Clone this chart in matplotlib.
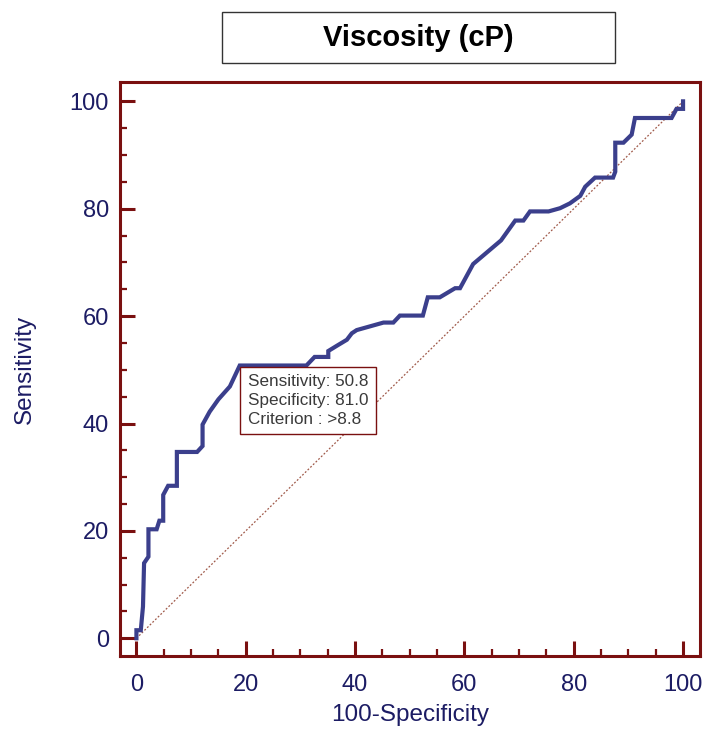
import numpy as np
import matplotlib
matplotlib.use("Agg")
import matplotlib.pyplot as plt
from matplotlib.ticker import MultipleLocator
from matplotlib.patches import Rectangle

# ROC curve points (100-Specificity, Sensitivity)
fpr = [0, 0, 0.8, 1.2, 1.4, 2.2, 2.2, 3.7, 4.2, 4.9, 4.9, 5.8, 7.4, 7.4, 11.1, 12.1, 12.1,
       13.4, 15.0, 17.1, 18.9, 31.1, 32.6, 35.1, 35.1, 36.7, 38.5, 39.4, 40.3, 45.2, 47.0,
       48.2, 52.4, 53.3, 55.5, 58.3, 59.2, 61.6, 66.7, 69.3, 70.8, 72.0, 75.4, 77.5, 79.3,
       81.2, 82.1, 83.9, 87.2, 87.6, 87.6, 89.1, 90.6, 91.2, 97.9, 98.8, 100.0, 100.0]
tpr = [0, 1.5, 1.5, 5.9, 14.0, 15.2, 20.3, 20.3, 21.9, 21.9, 26.7, 28.4, 28.4, 34.7, 34.7,
       35.8, 39.8, 42.2, 44.5, 46.9, 50.8, 50.8, 52.4, 52.4, 53.5, 54.5, 55.6, 56.8, 57.4,
       58.8, 58.8, 60.1, 60.1, 63.5, 63.5, 65.2, 65.2, 69.7, 74.1, 77.8, 77.8, 79.5, 79.5,
       80.1, 81.0, 82.4, 84.1, 85.8, 85.8, 86.9, 92.3, 92.3, 93.8, 96.9, 96.9, 98.6, 98.6, 100]

ref_line = [0, 100]
ticks = [0, 20, 40, 60, 80, 100]
criterion = (18.9, 50.6)
criterion_text = "Sensitivity: 50.8\nSpecificity: 81.0\nCriterion : >8.8"
title = "Viscosity (cP)"

frame_color = "#7a1010"
label_color = "#1c1c64"
curve_color = "#3b3f8c"

plt.rcParams['font.family'] = ['Liberation Sans', 'DejaVu Sans']

W, H = 706, 731
fig = plt.figure(figsize=(W / 100, H / 100), dpi=100)
ax = fig.add_axes([0.170, 0.1026, 0.8215, 0.7852])

ax.plot(ref_line, ref_line, color="#a05a4a", lw=0.9, linestyle=(0, (1.5, 1.5)))
ax.plot(fpr, tpr, color=curve_color, lw=3.0, solid_joinstyle="miter")

# criterion box, top-left corner at the optimal cut-off point
ax.annotate(criterion_text, xy=criterion, xytext=(5.6, -5.6), textcoords="offset points",
            ha="left", va="top", fontsize=12.3, color="#3a3a3a", linespacing=1.3,
            bbox=dict(boxstyle="square,pad=0.45", fc="white", ec=frame_color, lw=1.0))

ax.set_xlim(-3.0, 103.1)
ax.set_ylim(-3.3, 103.6)
ax.set_xticks(ticks)
ax.set_yticks(ticks)
ax.xaxis.set_minor_locator(MultipleLocator(5))
ax.yaxis.set_minor_locator(MultipleLocator(5))

for s in ax.spines.values():
    s.set_color(frame_color)
    s.set_linewidth(2.2)

ax.tick_params(which="major", direction="in", length=11, width=2.2, color=frame_color,
               labelsize=17, labelcolor=label_color)
ax.tick_params(which="minor", direction="in", length=5, width=1.6, color=frame_color)
ax.tick_params(axis="y", pad=8)
ax.tick_params(axis="x", pad=13)

ax.set_xlabel("100-Specificity", fontsize=17.5, color=label_color, labelpad=6)
ax.set_ylabel("Sensitivity", fontsize=17.5, color=label_color, labelpad=24)

# title box
fig.add_artist(Rectangle((222 / W, 1 - 63 / H), (615 - 222) / W, (63 - 12) / H,
                         transform=fig.transFigure, fc="white", ec="#333333", lw=1.0))
fig.text(418.5 / W, 1 - 38 / H, title, ha="center", va="center", fontsize=21,
         fontweight="bold", color="black")

fig.savefig("out.png", dpi=100)
